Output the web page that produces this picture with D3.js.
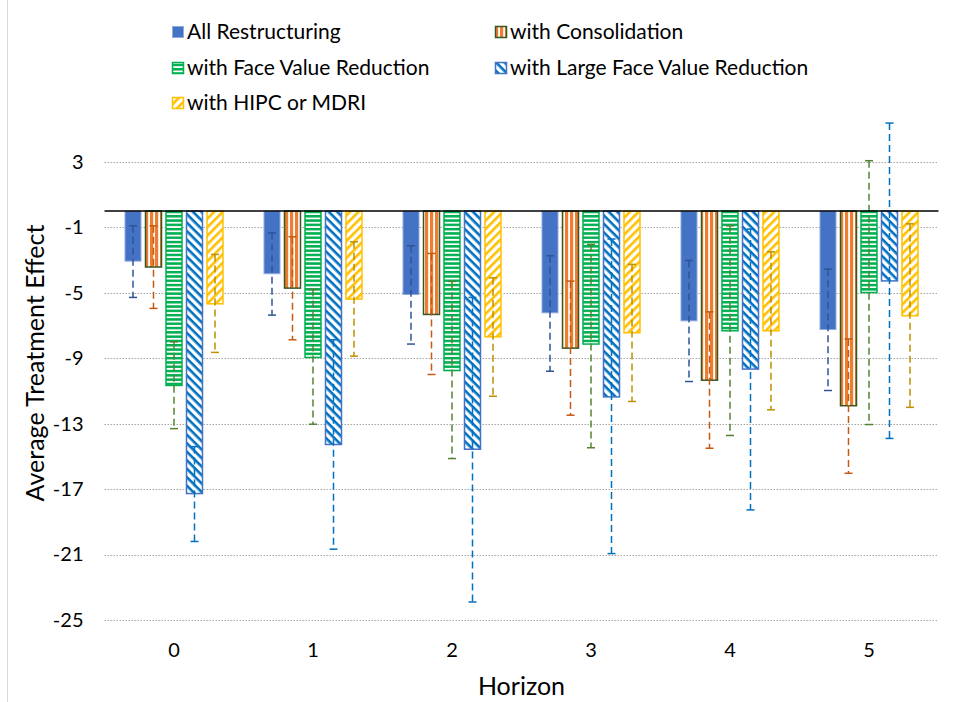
<!DOCTYPE html>
<html>
<head>
<meta charset="utf-8">
<script src="https://cdn.jsdelivr.net/npm/d3@7"></script>
<style>
  body { margin: 0; background: #fff; }
  text { font-family: Lato, "Liberation Sans", sans-serif; fill: #000; }
</style>
</head>
<body>
<div id="chart"></div>
<script>
// values
const horizons = [0, 1, 2, 3, 4, 5]
const seriesNames = ["All Restructuring", "with Consolidation", "with Face Value Reduction",
                     "with Large Face Value Reduction", "with HIPC or MDRI"]

const allRestructuring = [-3.06, -3.83, -5.10, -6.22, -6.71, -7.24]
const allLo = [-5.28, -6.36, -8.13, -9.79, -10.42, -10.97]
const allHi = [-0.90, -1.33, -2.12, -2.73, -3.02, -3.55]

const consolidation = [-3.42, -4.71, -6.32, -8.38, -10.34, -11.90]
const consLo = [-5.95, -7.87, -9.99, -12.48, -14.50, -16.03]
const consHi = [-0.90, -1.57, -2.59, -4.28, -6.16, -7.82]

const faceValue = [-10.66, -8.95, -9.75, -8.13, -7.32, -4.98]
const faceLo = [-13.30, -13.03, -15.13, -14.47, -13.72, -13.05]
const faceHi = [-7.99, -4.79, -4.30, -2.04, -0.90, 3.08]

const largeFace = [-17.27, -14.27, -14.56, -11.36, -9.66, -4.27]
const largeLo = [-20.20, -20.67, -23.90, -20.94, -18.27, -13.90]
const largeHi = [-14.40, -7.87, -5.28, -1.71, -1.10, 5.38]

const hipc = [-5.67, -5.38, -7.69, -7.44, -7.32, -6.40]
const hipcLo = [-8.64, -8.87, -11.32, -11.64, -12.15, -12.00]
const hipcHi = [-2.65, -1.88, -4.08, -3.26, -2.49, -0.78]

const yTicks = [3, -1, -5, -9, -13, -17, -21, -25]

const seriesValues = [allRestructuring, consolidation, faceValue, largeFace, hipc]
const seriesLo = [allLo, consLo, faceLo, largeLo, hipcLo]
const seriesHi = [allHi, consHi, faceHi, largeHi, hipcHi]

// styling per series
const fills = ["#4472C4", "url(#pCons)", "url(#pFace)", "url(#pLarge)", "url(#pHipc)"]
const borders = ["#8FAADC", "#385723", "#00B050", "#4472C4", "#FFC000"]
const borderW = [1, 1.5, 1.5, 1.5, 1.5]
const errColors = ["#2F5597", "#C55A11", "#548235", "#0070C0", "#BF9000"]

const svgWidth = 956, svgHeight = 702
const plot = {left: 104.5, right: 938.5, top: 162, bottom: 620}

let table = []
seriesNames.forEach((s, i) => {
    horizons.forEach((h, j) => {
        table.push({series: s, si: i, horizon: h, value: seriesValues[i][j],
                    lo: seriesLo[i][j], hi: seriesHi[i][j]})
    })
})

let svg = d3.select('#chart')
    .append('svg')
    .attr('width', svgWidth)
    .attr('height', svgHeight)

// patterns
let defs = svg.append('defs')

let pc = defs.append('pattern').attr('id', 'pCons')
    .attr('patternUnits', 'userSpaceOnUse').attr('width', 5).attr('height', 5)
pc.append('rect').attr('width', 5).attr('height', 5).attr('fill', '#fff')
pc.append('rect').attr('width', 3.2).attr('height', 5).attr('fill', '#ED7D31')

let pf = defs.append('pattern').attr('id', 'pFace')
    .attr('patternUnits', 'userSpaceOnUse').attr('width', 4).attr('height', 4.3)
pf.append('rect').attr('width', 4).attr('height', 4.3).attr('fill', '#fff')
pf.append('rect').attr('width', 4).attr('height', 2.5).attr('fill', '#00B050')

// downward diagonal "\\\"
let pl = defs.append('pattern').attr('id', 'pLarge')
    .attr('patternUnits', 'userSpaceOnUse').attr('width', 6).attr('height', 6)
    .attr('patternTransform', 'rotate(45)')
pl.append('rect').attr('width', 6).attr('height', 6).attr('fill', '#fff')
pl.append('rect').attr('width', 6).attr('height', 2.6).attr('fill', '#0070C0')

// upward diagonal "///"
let ph = defs.append('pattern').attr('id', 'pHipc')
    .attr('patternUnits', 'userSpaceOnUse').attr('width', 6).attr('height', 6)
    .attr('patternTransform', 'rotate(-45)')
ph.append('rect').attr('width', 6).attr('height', 6).attr('fill', '#fff')
ph.append('rect').attr('width', 6).attr('height', 2.6).attr('fill', '#FFC000')

// chart border on the left
svg.append('line')
    .attr('x1', 7.5).attr('x2', 7.5).attr('y1', 0).attr('y2', svgHeight)
    .attr('stroke', '#d9d9d9')

let x0 = d3.scaleBand()
    .domain(horizons)
    .range([plot.left, plot.right])

let x1 = d3.scaleBand()
    .domain(d3.range(seriesNames.length))
    .range([0, x0.bandwidth()])
    .paddingInner(0.22)
    .paddingOuter(1.0)

let yScale = d3.scaleLinear()
    .domain([-25, 3])
    .range([plot.bottom, plot.top])

// gridlines
svg.append('g')
    .selectAll('line')
    .data(yTicks)
    .join('line')
    .attr('x1', plot.left).attr('x2', plot.right)
    .attr('y1', d => Math.round(yScale(d)) + 0.5)
    .attr('y2', d => Math.round(yScale(d)) + 0.5)
    .attr('stroke', '#a6a6a6')
    .attr('stroke-width', 1)
    .attr('stroke-dasharray', '1.5,1.5')

// y axis labels (plain hyphen like the original)
let yAxis = svg.append('g')
    .attr('transform', `translate(${plot.left},0)`)
    .call(d3.axisLeft(yScale).tickValues(yTicks).tickSize(0).tickPadding(21)
        .tickFormat(d => String(d)))
yAxis.select('.domain').remove()
yAxis.selectAll('text').style('font-size', '20px').attr('fill', '#000')

// bars
svg.append('g')
    .selectAll('rect')
    .data(table)
    .join('rect')
    .attr('x', d => x0(d.horizon) + x1(d.si))
    .attr('width', x1.bandwidth())
    .attr('y', d => yScale(Math.max(0, d.value)))
    .attr('height', d => Math.abs(yScale(d.value) - yScale(0)))
    .attr('fill', d => fills[d.si])
    .attr('stroke', d => borders[d.si])
    .attr('stroke-width', d => borderW[d.si])

// error bars
let eb = svg.append('g')
    .selectAll('g')
    .data(table)
    .join('g')
    .attr('stroke', d => errColors[d.si])
    .attr('stroke-width', 1.5)

eb.append('line')
    .attr('x1', d => x0(d.horizon) + x1(d.si) + x1.bandwidth() / 2)
    .attr('x2', d => x0(d.horizon) + x1(d.si) + x1.bandwidth() / 2)
    .attr('y1', d => yScale(d.hi))
    .attr('y2', d => yScale(d.lo))
    .attr('stroke-dasharray', '7,4')

eb.selectAll('.cap')
    .data(d => [d.lo, d.hi].map(v => ({v: v, d: d})))
    .join('line')
    .attr('class', 'cap')
    .attr('x1', c => x0(c.d.horizon) + x1(c.d.si) + x1.bandwidth() / 2 - 4)
    .attr('x2', c => x0(c.d.horizon) + x1(c.d.si) + x1.bandwidth() / 2 + 4)
    .attr('y1', c => yScale(c.v))
    .attr('y2', c => yScale(c.v))

// zero line
svg.append('line')
    .attr('x1', plot.left).attr('x2', plot.right)
    .attr('y1', yScale(0)).attr('y2', yScale(0))
    .attr('stroke', '#000')
    .attr('stroke-width', 1.5)

// category labels
svg.append('g')
    .selectAll('text')
    .data(horizons)
    .join('text')
    .attr('x', d => x0(d) + x0.bandwidth() / 2)
    .attr('y', 650)
    .attr('dy', '0.35em')
    .attr('text-anchor', 'middle')
    .style('font-size', '20px')
    .text(d => d)

// axis titles
svg.append('text')
    .attr('x', (plot.left + plot.right) / 2)
    .attr('y', 686)
    .attr('dy', '0.35em')
    .attr('text-anchor', 'middle')
    .style('font-size', '25px')
    .text('Horizon')

svg.append('text')
    .attr('transform', 'translate(35,363) rotate(-90)')
    .attr('dy', '0.35em')
    .attr('text-anchor', 'middle')
    .style('font-size', '25px')
    .text('Average Treatment Effect')

// legend
const legendPos = [[172, 32], [495, 32], [172, 68], [495, 68], [172, 103]]
let legend = svg.append('g')
    .selectAll('g')
    .data(seriesNames)
    .join('g')
    .attr('transform', (d, i) => `translate(${legendPos[i][0]},${legendPos[i][1]})`)

legend.append('rect')
    .attr('x', 0.5).attr('y', -5.5)
    .attr('width', 11).attr('height', 11)
    .attr('fill', (d, i) => fills[i])
    .attr('stroke', (d, i) => borders[i])
    .attr('stroke-width', (d, i) => borderW[i])

legend.append('text')
    .attr('x', 15)
    .attr('dy', '0.35em')
    .style('font-size', '21px')
    .text(d => d)
</script>
</body>
</html>
